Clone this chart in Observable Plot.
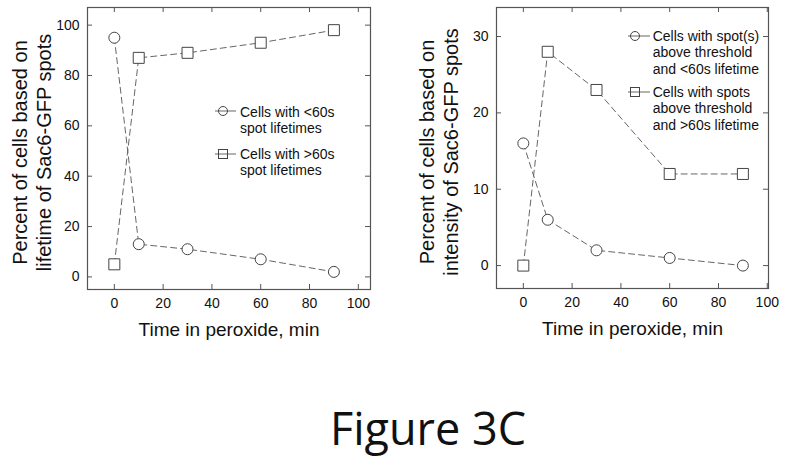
<!DOCTYPE html>
<html>
<head>
<meta charset="utf-8">
<script src="https://cdn.jsdelivr.net/npm/d3@7"></script>
<script src="https://cdn.jsdelivr.net/npm/@observablehq/plot@0.6"></script>
<style>
  html, body { margin: 0; padding: 0; background: #fff; }
  #wrap { position: relative; width: 785px; height: 464px; overflow: hidden; font-family: "Liberation Sans", Arial, sans-serif; }
  #left, #right { position: absolute; top: 0; }
  #left { left: 0; }
  #right { left: 392px; }
  #fig { position: absolute; left: 0; width: 856px; top: 398px; text-align: center; font-family: "Open Sans", "Noto Sans", sans-serif; font-size: 45px; color: #111; line-height: 60px; }
</style>
</head>
<body>
<div id="wrap">
  <div id="left"></div>
  <div id="right"></div>
  <div id="fig">Figure 3C</div>
</div>
<script>
// ---- data ----
const times = [0, 10, 30, 60, 90];
const lifetimeShort = [95, 13, 11, 7, 2];   // Cells with <60s spot lifetimes
const lifetimeLong  = [5, 87, 89, 93, 98];  // Cells with >60s spot lifetimes
const intensShort = [16, 6, 2, 1, 0];       // spot(s) above threshold and <60s lifetime
const intensLong  = [0, 28, 23, 12, 12];    // spots above threshold and >60s lifetime

const xTicks = [0, 20, 40, 60, 80, 100];
const yTicksLeft = [0, 20, 40, 60, 80, 100];
const yTicksRight = [0, 10, 20, 30];

const xTitle = "Time in peroxide, min";
const yTitleLeft = "Percent of cells based on\nlifetime of Sac6-GFP spots";
const yTitleRight = "Percent of cells based on\nintensity of Sac6-GFP spots";
const legendLeft = [["Cells with <60s", "spot lifetimes"], ["Cells with >60s", "spot lifetimes"]];
const legendRight = [["Cells with spot(s)", "above threshold", "and <60s lifetime"], ["Cells with spots", "above threshold", "and >60s lifetime"]];

const toRows = (ys) => times.map((t, i) => ({t, v: ys[i]}));

const frameColor = "#555";
const lineColor = "#666";
const markColor = "#444";

function makePlot(cfg) {
  const plotW = cfg.width - cfg.marginLeft - cfg.marginRight;
  const plotH = cfg.height - cfg.marginTop - cfg.marginBottom;
  const circ = toRows(cfg.circle);
  const sq = toRows(cfg.square);
  const svg = Plot.plot({
    width: cfg.width,
    height: cfg.height,
    marginLeft: cfg.marginLeft,
    marginRight: cfg.marginRight,
    marginTop: cfg.marginTop,
    marginBottom: cfg.marginBottom,
    style: {fontFamily: "Liberation Sans, Arial, sans-serif", background: "white", color: "#111"},
    x: {domain: cfg.xDomain, axis: null},
    y: {domain: cfg.yDomain, axis: null},
    marks: [
      Plot.frame({stroke: frameColor, strokeWidth: 1.2}),
      Plot.axisY(cfg.yTicks, {anchor: "left", tickSize: 0, tickPadding: 8, fontSize: 14, label: null, fill: "#111"}),
      Plot.axisX(xTicks, {anchor: "bottom", tickSize: 0, tickPadding: 9, fontSize: 14, label: null, fill: "#111"}),
      Plot.tickY(cfg.yTicks, {y: d => d, insetRight: plotW - 5, stroke: frameColor}),
      Plot.tickY(cfg.yTicks, {y: d => d, insetLeft: plotW - 5, stroke: frameColor}),
      Plot.tickX(xTicks, {x: d => d, insetTop: plotH - 5, stroke: frameColor}),
      Plot.tickX(xTicks, {x: d => d, insetBottom: plotH - 5, stroke: frameColor}),
      Plot.text([xTitle], {frameAnchor: "bottom", textAnchor: "middle", dy: 46, fontSize: 19, fill: "#111"}),
      Plot.text([cfg.yTitle], {frameAnchor: "left", textAnchor: "middle", rotate: -90, dx: cfg.yTitleDx, dy: 4, fontSize: 20, lineHeight: 1.2, fill: "#111"}),
      Plot.line(circ, {x: "t", y: "v", stroke: lineColor, strokeDasharray: "6,4", strokeWidth: 1}),
      Plot.line(sq, {x: "t", y: "v", stroke: lineColor, strokeDasharray: "6,4", strokeWidth: 1}),
      Plot.dot(circ, {x: "t", y: "v", r: 5.5, symbol: "circle", stroke: markColor, fill: "white", strokeWidth: 1}),
      Plot.dot(sq, {x: "t", y: "v", r: 6.2, symbol: "square", stroke: markColor, fill: "white", strokeWidth: 1})
    ]
  });
  // legend (positioned in pixels inside the frame)
  const g = d3.select(svg).append("g").attr("font-size", 14).attr("fill", "#111")
    .attr("text-anchor", "start")
    .attr("font-family", "Liberation Sans, Arial, sans-serif");
  cfg.legend.forEach((lines, k) => {
    const lg = cfg.legendPos[k];
    g.append("line").attr("x1", lg.lx1).attr("x2", lg.lx2).attr("y1", lg.sy).attr("y2", lg.sy)
      .attr("stroke", lineColor).attr("stroke-width", 1);
    if (k === 0) {
      g.append("circle").attr("cx", lg.sx).attr("cy", lg.sy).attr("r", 4.5)
        .attr("fill", "none").attr("stroke", markColor);
    } else {
      g.append("rect").attr("x", lg.sx - 4.5).attr("y", lg.sy - 4.5).attr("width", 9).attr("height", 9)
        .attr("fill", "none").attr("stroke", markColor);
    }
    lines.forEach((s, j) => {
      g.append("text").attr("x", lg.tx).attr("y", lg.by + j * 16.7).attr("text-anchor", "start").text(s);
    });
  });
  return svg;
}

document.getElementById("left").appendChild(makePlot({
  width: 390, height: 350, marginLeft: 87, marginRight: 20, marginTop: 7, marginBottom: 61,
  xDomain: [-11, 105], yDomain: [-5, 107], yTicks: yTicksLeft,
  circle: lifetimeShort, square: lifetimeLong, yTitle: yTitleLeft, yTitleDx: -56,
  legend: legendLeft,
  legendPos: [
    {lx1: 215, lx2: 236, sx: 223, sy: 111, tx: 240, by: 116.7},
    {lx1: 215, lx2: 236, sx: 223, sy: 154, tx: 240, by: 158.5}
  ]
}));

document.getElementById("right").appendChild(makePlot({
  width: 393, height: 350, marginLeft: 104, marginRight: 17, marginTop: 7, marginBottom: 62,
  xDomain: [-11, 100.5], yDomain: [-3, 33.8], yTicks: yTicksRight,
  circle: intensShort, square: intensLong, yTitle: yTitleRight, yTitleDx: -58,
  legend: legendRight,
  legendPos: [
    {lx1: 236, lx2: 258, sx: 243, sy: 36, tx: 260.7, by: 40.7},
    {lx1: 236, lx2: 258, sx: 243, sy: 92, tx: 260.7, by: 96.7}
  ]
}));
</script>
</body>
</html>
